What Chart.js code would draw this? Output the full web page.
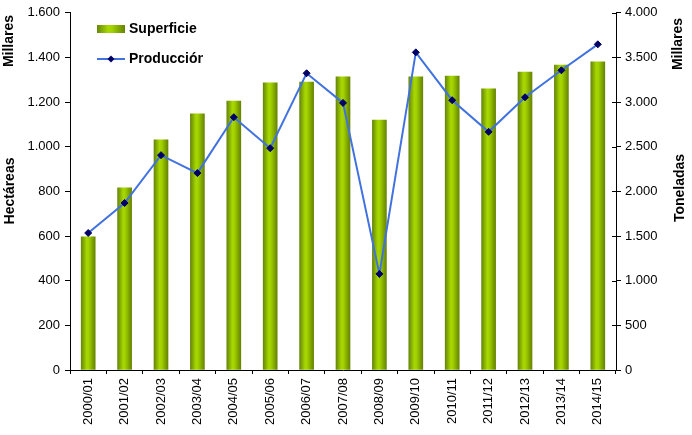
<!DOCTYPE html>
<html>
<head>
<meta charset="utf-8">
<script src="https://cdn.jsdelivr.net/npm/chart.js@4/dist/chart.umd.min.js"></script>
<style>
html,body{margin:0;padding:0;background:#fff;}
#wrap{width:692px;height:435px;position:relative;}
</style>
</head>
<body>
<div id="wrap"><canvas id="c"></canvas></div>
<script>
const categories = ["2000/01","2001/02","2002/03","2003/04","2004/05","2005/06","2006/07","2007/08","2008/09","2009/10","2010/11","2011/12","2012/13","2013/14","2014/15"];
const superficie = [597, 816, 1031, 1147, 1205, 1286, 1290, 1313, 1120, 1313, 1317, 1259, 1335, 1366, 1380];
const produccion = [1534, 1870, 2406, 2205, 2831, 2484, 3323, 2991, 1076, 3557, 3021, 2667, 3054, 3356, 3647];
const seriesLabels = ["Superficie", "Producción"];
const leftTitles = ["Millares", "Hectáreas"];
const rightTitles = ["Millares", "Toneladas"];

const FONT = "'Liberation Sans', Arial, sans-serif";

function fmt(v){ return String(v).replace(/\B(?=(\d{3})+(?!\d))/g, "."); }

function barGradient(c, x0, x1){
  const g = c.createLinearGradient(x0, 0, x1, 0);
  g.addColorStop(0, '#66870a');
  g.addColorStop(0.4, '#a8d800');
  g.addColorStop(0.55, '#a0d000');
  g.addColorStop(1, '#668400');
  return g;
}

const extras = {
  id: 'extras',
  afterDraw(chart){
    const c = chart.ctx;
    const y1 = chart.scales.y1;
    c.save();
    c.strokeStyle = '#000'; c.lineWidth = 1;
    y1.ticks.forEach(t => {
      const py = Math.round(y1.getPixelForValue(t.value)) + 0.5;
      c.beginPath(); c.moveTo(y1.left - 4, py); c.lineTo(y1.left, py); c.stroke();
    });
    c.restore();

    c.save();
    c.fillStyle = '#000';
    c.font = "bold 14px " + FONT;
    c.textAlign = 'center'; c.textBaseline = 'middle';
    const drawRot = (txt, x, y) => { c.save(); c.translate(x, y); c.rotate(-Math.PI/2); c.fillText(txt, 0, 0); c.restore(); };
    drawRot(leftTitles[0], 9, 41);
    drawRot(leftTitles[1], 10, 191);
    drawRot(rightTitles[0], 678, 44);
    drawRot(rightTitles[1], 680, 188);
    c.restore();

    c.save();
    c.fillStyle = barGradient(c, 97, 125);
    c.fillRect(97, 25, 28, 8);
    c.strokeStyle = '#4172e0'; c.lineWidth = 2;
    c.beginPath(); c.moveTo(97, 59); c.lineTo(125, 59); c.stroke();
    c.fillStyle = '#000066';
    c.beginPath(); c.moveTo(111, 55.5); c.lineTo(114.5, 59); c.lineTo(111, 62.5); c.lineTo(107.5, 59); c.closePath(); c.fill();
    c.fillStyle = '#000';
    c.font = "bold 14px " + FONT;
    c.textAlign = 'left'; c.textBaseline = 'middle';
    c.fillText(seriesLabels[0], 129, 29);
    c.beginPath(); c.rect(120, 45, 83, 30); c.clip();
    c.fillText(seriesLabels[1], 129, 59);
    c.restore();
  }
};

new Chart(document.getElementById('c'), {
  data: {
    labels: categories,
    datasets: [
      {
        type: 'line',
        label: seriesLabels[1],
        data: produccion,
        yAxisID: 'y1',
        borderColor: '#4172e0',
        borderWidth: 2,
        pointStyle: 'rectRot',
        pointRadius: 3.5,
        pointBackgroundColor: '#000066',
        pointBorderColor: '#000066',
        pointBorderWidth: 1,
        tension: 0,
        order: 0
      },
      {
        type: 'bar',
        label: seriesLabels[0],
        data: superficie,
        yAxisID: 'y',
        barThickness: 14,
        backgroundColor: (ctx) => {
          const chart = ctx.chart;
          const xs = chart.scales && chart.scales.x;
          if (!xs || ctx.type !== 'data' || !isFinite(xs.getPixelForValue(ctx.dataIndex))) return '#99cc00';
          const cx = xs.getPixelForValue(ctx.dataIndex);
          return barGradient(chart.ctx, cx - 7, cx + 7);
        },
        borderWidth: 0,
        order: 1
      }
    ]
  },
  options: {
    responsive: true,
    maintainAspectRatio: false,
    animation: false,
    layout: { padding: { top: 12, left: 0, right: 0, bottom: 0 } },
    plugins: { legend: { display: false }, tooltip: { enabled: false } },
    scales: {
      x: {
        offset: true,
        grid: { display: true, offset: true, drawOnChartArea: false, drawTicks: true, tickLength: 4, tickColor: '#000' },
        border: { display: true, color: '#000', width: 1 },
        ticks: { color: '#000', font: { family: FONT, size: 13 }, minRotation: 90, maxRotation: 90, padding: 4, autoSkip: false },
        afterFit(s){ s.height = 65; }
      },
      y: {
        position: 'left',
        min: 0, max: 1600,
        grid: { drawOnChartArea: false, drawTicks: true, tickLength: 5, tickColor: '#000' },
        border: { display: true, color: '#000', width: 1 },
        ticks: { stepSize: 200, color: '#000', font: { family: FONT, size: 13 }, padding: 5, callback: v => fmt(v) },
        afterFit(s){ s.width = 70; }
      },
      y1: {
        position: 'right',
        min: 0, max: 4000,
        grid: { drawOnChartArea: false, drawTicks: true, tickLength: 5, tickColor: '#000' },
        border: { display: true, color: '#000', width: 1 },
        ticks: { stepSize: 500, color: '#000', font: { family: FONT, size: 13 }, padding: 4, callback: v => fmt(v) },
        afterFit(s){ s.width = 76; }
      }
    }
  },
  plugins: [extras]
});
</script>
</body>
</html>
